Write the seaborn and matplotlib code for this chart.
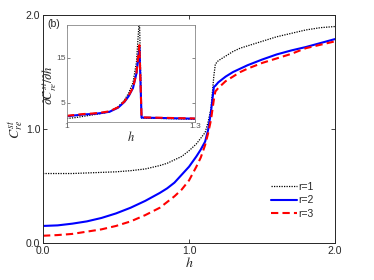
import numpy as np
import pandas as pd
import seaborn as sns
import matplotlib.pyplot as plt

# main panel: steady-state C_re vs h for r=1,2,3
h = [0.0, 0.1, 0.2, 0.3, 0.4, 0.5, 0.6, 0.7, 0.8,
     0.85, 0.9, 0.95, 1.0, 1.05, 1.08, 1.11, 1.13, 1.15,
     1.17, 1.18,
     1.2, 1.25, 1.3, 1.35, 1.4, 1.5, 1.6, 1.7, 1.8, 1.9, 2.0]
c_r1 = [0.61, 0.61, 0.61, 0.615, 0.62, 0.625, 0.635, 0.65, 0.68,
        0.70, 0.73, 0.76, 0.81, 0.87, 0.92, 0.97, 1.06, 1.18,
        1.47, 1.57,
        1.60, 1.64, 1.68, 1.71, 1.73, 1.77, 1.81, 1.84, 1.87, 1.89, 1.90]
c_r2 = [0.15, 0.155, 0.17, 0.19, 0.22, 0.26, 0.31, 0.37, 0.44,
        0.48, 0.53, 0.60, 0.67, 0.76, 0.82, 0.89, 0.99, 1.15,
        1.37, 1.38,
        1.41, 1.46, 1.50, 1.53, 1.56, 1.61, 1.655, 1.69, 1.72, 1.755, 1.79]
c_r3 = [0.064, 0.07, 0.08, 0.10, 0.12, 0.15, 0.19, 0.245, 0.31,
        0.36, 0.41, 0.47, 0.55, 0.67, 0.75, 0.86, 0.96, 1.08,
        1.26, 1.33,
        1.36, 1.42, 1.46, 1.50, 1.53, 1.58, 1.62, 1.66, 1.71, 1.74, 1.77]

# inset: derivative dC/dh near the transition
h_in = [1.0, 1.02, 1.04, 1.06, 1.08, 1.1, 1.12, 1.135, 1.145, 1.155, 1.163,
        1.17, 1.175, 1.2, 1.25, 1.3]
d_r1 = [1.5, 1.7, 2.0, 2.3, 2.6, 3.0, 4.1, 5.6, 7.2, 9.5, 14.0, 24.0,
        1.6, 1.55, 1.45, 1.35]
d_r2 = [2.0, 2.2, 2.4, 2.5, 2.7, 3.0, 3.9, 5.2, 6.5, 8.3, 11.5, 17.3,
        1.7, 1.65, 1.55, 1.45]
d_r3 = [2.1, 2.3, 2.5, 2.6, 2.8, 3.1, 4.0, 5.3, 6.6, 8.4, 11.6, 17.8,
        1.75, 1.7, 1.6, 1.5]

labels = ['r=1', 'r=2', 'r=3']
colors = ['black', 'blue', 'red']
styles = [(0, (1, 1)), '-', (0, (3.5, 2))]
widths = [0.9, 1.5, 1.5]

sns.set_style('ticks')
plt.rcParams['font.family'] = ['Liberation Sans', 'DejaVu Sans']
plt.rcParams['mathtext.fontset'] = 'stix'
plt.rcParams['xtick.direction'] = 'in'
plt.rcParams['ytick.direction'] = 'in'

fig = plt.figure(figsize=(3.74, 2.80), dpi=100)
ax = fig.add_axes([0.115, 0.132, 0.781, 0.814])

for y, lab, c, ls, lw in zip([c_r1, c_r2, c_r3], labels, colors, styles, widths):
    sns.lineplot(x=h, y=y, ax=ax, color=c, linestyle=ls, linewidth=lw,
                 label=lab, estimator=None, sort=False)

ax.set_xlim(0, 2)
ax.set_ylim(0, 2)
ax.set_xticks([0, 1, 2])
ax.set_xticklabels(['0.0', '1.0', '2.0'])
ax.set_yticks([0, 1, 2])
ax.set_yticklabels(['0.0', '1.0', '2.0'])
ax.tick_params(labelsize=7.5, top=True, right=True, length=3, width=0.6,
               colors='#262626', pad=2)
for s in ax.spines.values():
    s.set_linewidth(0.7)
    s.set_color('#262626')
ax.set_xlabel('$h$', fontsize=10, labelpad=0)
ax.set_ylabel(r'$C_{re}^{st}$', fontsize=10, labelpad=0)
ax.text(0.015, 0.985, '(b)', transform=ax.transAxes, fontsize=7.5,
        va='top', ha='left')
ax.legend(loc='upper left', bbox_to_anchor=(0.78, 0.27), frameon=False,
          fontsize=7.5, handlelength=2.5, handletextpad=0.15,
          labelspacing=0.35, borderaxespad=0, borderpad=0)

# inset
axi = fig.add_axes([0.179, 0.564, 0.342, 0.347])
for y, c, ls, lw in zip([d_r1, d_r2, d_r3], colors, styles, widths):
    sns.lineplot(x=h_in, y=y, ax=axi, color=c, linestyle=ls, linewidth=lw,
                 estimator=None, sort=False)
axi.set_xlim(1, 1.3)
axi.set_ylim(0.7, 22.3)
axi.set_xticks([1, 1.3])
axi.set_xticklabels(['1', '1.3'])
axi.set_yticks([5, 15])
axi.tick_params(labelsize=6, top=True, right=True, length=2, width=0.5,
                colors='#555555', pad=1)
for s in axi.spines.values():
    s.set_linewidth(0.6)
    s.set_color('#888888')
axi.set_xlabel('$h$', fontsize=9, labelpad=0)
axi.set_ylabel(r'$\partial C_{re}^{st}/\partial h$', fontsize=9)
axi.yaxis.set_label_coords(-0.07, 0.38)

fig.savefig('out.png', dpi=100)
